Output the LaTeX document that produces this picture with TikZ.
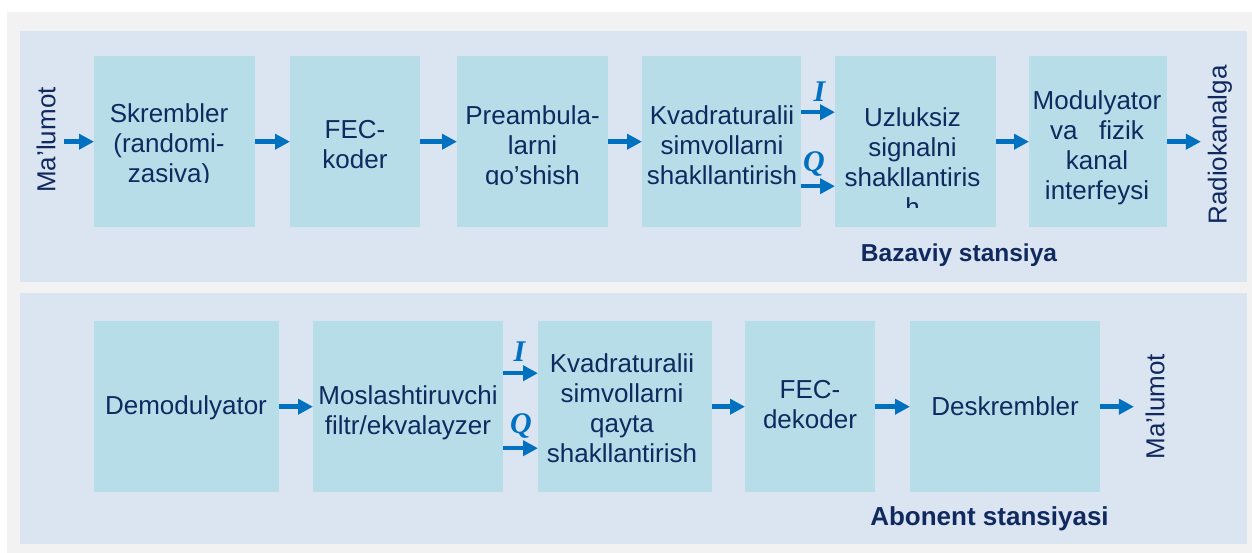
\documentclass[tikz,border=0pt]{standalone}
\usepackage{fontspec}
\setmainfont{Liberation Sans}
\newfontfamily\iqfont{Liberation Serif}
\usetikzlibrary{arrows.meta,calc}
\definecolor{bggray}{HTML}{F2F2F2}
\definecolor{panelc}{HTML}{DBE5F1}
\definecolor{boxc}{HTML}{B7DEE8}
\definecolor{textc}{HTML}{10295F}
\definecolor{arrc}{HTML}{0070C0}
\begin{document}
\begin{tikzpicture}[x=1pt,y=-1pt,
 box/.style={fill=boxc, inner sep=0pt, anchor=north west, minimum height=171pt},
 txt/.style={font=\fontsize{26}{30}\selectfont, text=textc, align=center, inner sep=0pt, anchor=north},
 vtxt/.style={font=\fontsize{26}{30}\selectfont, text=textc, inner sep=0pt, rotate=90},
 iq/.style={font=\iqfont\bfseries\itshape\fontsize{30}{30}\selectfont, text=arrc, inner sep=0pt},
 lbl/.style={font=\bfseries\fontsize{#1}{30}\selectfont, text=textc, inner sep=0pt, anchor=base},
 arr/.style={draw=arrc, line width=4.5pt, -{Triangle[length=15pt,width=15pt]}}
]
\useasboundingbox (0,0) rectangle (1252,553);
\fill[white] (0,0) rectangle (1252,553);
\fill[bggray] (7,12) rectangle (1252,553);
\fill[panelc] (20,31) rectangle (1247,282);
\fill[panelc] (20,293) rectangle (1247,544);

% top row boxes
\node[box, minimum width=161pt] (skr) at (94,56) {};
\node[box, minimum width=130pt] (fec) at (290,56) {};
\node[box, minimum width=151pt] (pre) at (457,56) {};
\node[box, minimum width=159pt] (kv) at (642,56) {};
\node[box, minimum width=161pt] (uz) at (835,56) {};
\node[box, minimum width=138pt] (mod) at (1029,56) {};

% bottom row boxes
\node[box, minimum width=185pt] (dem) at (94,321) {};
\node[box, minimum width=190pt] (mos) at (313,321) {};
\node[box, minimum width=174pt] (kv2) at (538,321) {};
\node[box, minimum width=130pt] (fec2) at (745,321) {};
\node[box, minimum width=190pt] (desk) at (910,321) {};

% top texts
\begin{scope}
\clip (94,56) rectangle (255,182.5);
\node[txt] (skrT) at (169,103) {Skrembler\\(randomi-\\zasiva)};
\end{scope}
\node[txt] (fecT) at (355,120) {FEC-\\koder};
\begin{scope}
\clip (457,56) rectangle (608,185);
\node[txt] (preT) at (532.5,105) {Preambula-\\larni\\qo’shish};
\end{scope}
\node[txt] (kvT) at (722,105) {Kvadraturalii\\simvollarni\\shakllantirish};
\begin{scope}
\clip (835,56) rectangle (996,208);
\node[txt] (uzT) at (912.5,107) {Uzluksiz\\signalni\\shakllantiris\\h};
\end{scope}
\node[txt] (modT) at (1097,90) {Modulyator\\va\ \ \ fizik\\kanal\\interfeysi};

% bottom texts
\node[txt] (demT) at (186,395) {Demodulyator};
\node[txt] (mosT) at (408,385) {Moslashtiruvchi\\filtr/ekvalayzer};
\node[txt] (kv2T) at (622,353) {Kvadraturalii\\simvollarni\\qayta\\shakllantirish};
\node[txt] (fec2T) at (810,380) {FEC-\\dekoder};
\node[txt] (deskT) at (1005,396) {Deskrembler};

% vertical labels
\node[vtxt] (ml) at (46,140) {Ma’lumot};
\node[vtxt] (rk) at (1220,145) {Radiokanalga};
\node[vtxt] (ml2) at (1155,406.5) {Ma’lumot};

% I/Q labels
\node[iq] (i1) at (819.5,92) {I};
\node[iq] (q1) at (814,164) {Q};
\node[iq] (i2) at (519.5,352) {I};
\node[iq] (q2) at (521,425.5) {Q};

% station labels
\node[lbl=24.5] (baz) at (959,261.7) {Bazaviy stansiya};
\node[lbl=26] (abo) at (989.5,525.7) {Abonent stansiyasi};

% free arrow ends
\coordinate (mlout) at ($(ml.south |- skr.west)+(8.7,0)$);
\coordinate (rkin) at ($(rk.north |- mod.east)+(-6.8,0)$);
\coordinate (ml2in) at ($(ml2.north |- desk.east)+(-11.3,0)$);

% top arrows
\draw[arr] (mlout) -- (skr.west);
\draw[arr] (skr.east) -- (fec.west);
\draw[arr] (fec.east) -- (pre.west);
\draw[arr] (pre.east) -- (kv.west);
\draw[arr] ([yshift=29.5pt]kv.east) -- ([yshift=29.5pt]uz.west);
\draw[arr] ([yshift=-44.5pt]kv.east) -- ([yshift=-44.5pt]uz.west);
\draw[arr] (uz.east) -- (mod.west);
\draw[arr] (mod.east) -- (rkin);

% bottom arrows
\draw[arr] (dem.east) -- (mos.west);
\draw[arr] ([yshift=33.5pt]mos.east) -- ([yshift=33.5pt]kv2.west);
\draw[arr] ([yshift=-41.5pt]mos.east) -- ([yshift=-41.5pt]kv2.west);
\draw[arr] (kv2.east) -- (fec2.west);
\draw[arr] (fec2.east) -- (desk.west);
\draw[arr] (desk.east) -- (ml2in);
\end{tikzpicture}
\end{document}
